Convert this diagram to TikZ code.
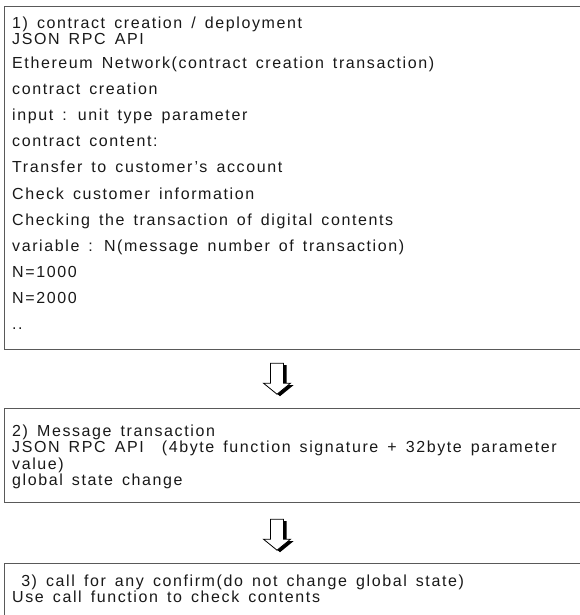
\documentclass[tikz,border=0pt]{standalone}
\usepackage{fontspec}
\setmainfont{Liberation Sans}[LetterSpace=10, WordSpace=1.5]
\begin{document}
\begin{tikzpicture}[x=1bp,y=-1bp,
  panel/.style={draw=black!65, line width=1.2bp, anchor=north west, inner sep=0pt},
  txt/.style={anchor=base west, inner sep=0pt, text=black!90,
    font=\fontsize{16bp}{17bp}\selectfont},
  hollowarrow/.pic={
    % black drop shadow, then the white outlined arrow over it
    \fill[black] (-3.5,2) -- (9.5,2) -- (9.5,22) -- (16.5,22) -- (3,33) -- (-10.5,22) -- (-3.5,22) -- cycle;
    \draw[fill=white, line width=0.8bp, line join=miter]
      (-6.5,0) -- (6.5,0) -- (6.5,20) -- (13.5,20) -- (0,31) -- (-13.5,20) -- (-6.5,20) -- cycle;
  }]
\useasboundingbox (0,0) rectangle (580,615);
\fill[white] (0,0) rectangle (580,615);
\clip (0,0) rectangle (580,615);

% step 1: contract creation
\node[panel, minimum width=620bp, minimum height=343bp] (b1) at (4,6) {};
\node[txt] (t101) at (12,29)  {1) contract creation / deployment};
\node[txt] (t102) at (12,45)  {JSON RPC API};
\node[txt] (t103) at (12,69)  {Ethereum Network(contract creation transaction)};
\node[txt] (t104) at (12,95)  {contract creation};
\node[txt] (t105) at (12,121) {input : unit type parameter};
\node[txt] (t106) at (12,147) {contract content:};
\node[txt] (t107) at (12,173) {Transfer to customer's account};
\node[txt] (t108) at (12,199) {Check customer information};
\node[txt] (t109) at (12,225) {Checking the transaction of digital contents};
\node[txt] (t110) at (12,251) {variable : N(message number of transaction)};
\node[txt] (t111) at (12,277) {N=1000};
\node[txt] (t112) at (12,303) {N=2000};
\node[txt] (t113) at (12,329) {..};

\path (b1.south west) ++(273,13) pic {hollowarrow};

% step 2: message transaction
\node[panel, minimum width=620bp, minimum height=94bp] (b2) at (4,408) {};
\node[txt] (t201) at (12,436) {2) Message transaction};
\node[txt] (t202) at (12,452.5) {JSON RPC API\ \ (4byte function signature + 32byte parameter};
\node[txt] (t203) at (12,469) {value)};
\node[txt] (t204) at (12,485.5) {global state change};

\path (b2.south west) ++(273,16) pic {hollowarrow};

% step 3: call
\node[panel, minimum width=620bp, minimum height=100bp] (b3) at (4,563) {};
\node[txt] (t301) at (12,586) {\ 3) call for any confirm(do not change global state)};
\node[txt] (t302) at (12,602) {Use call function to check contents};
\end{tikzpicture}
\end{document}
